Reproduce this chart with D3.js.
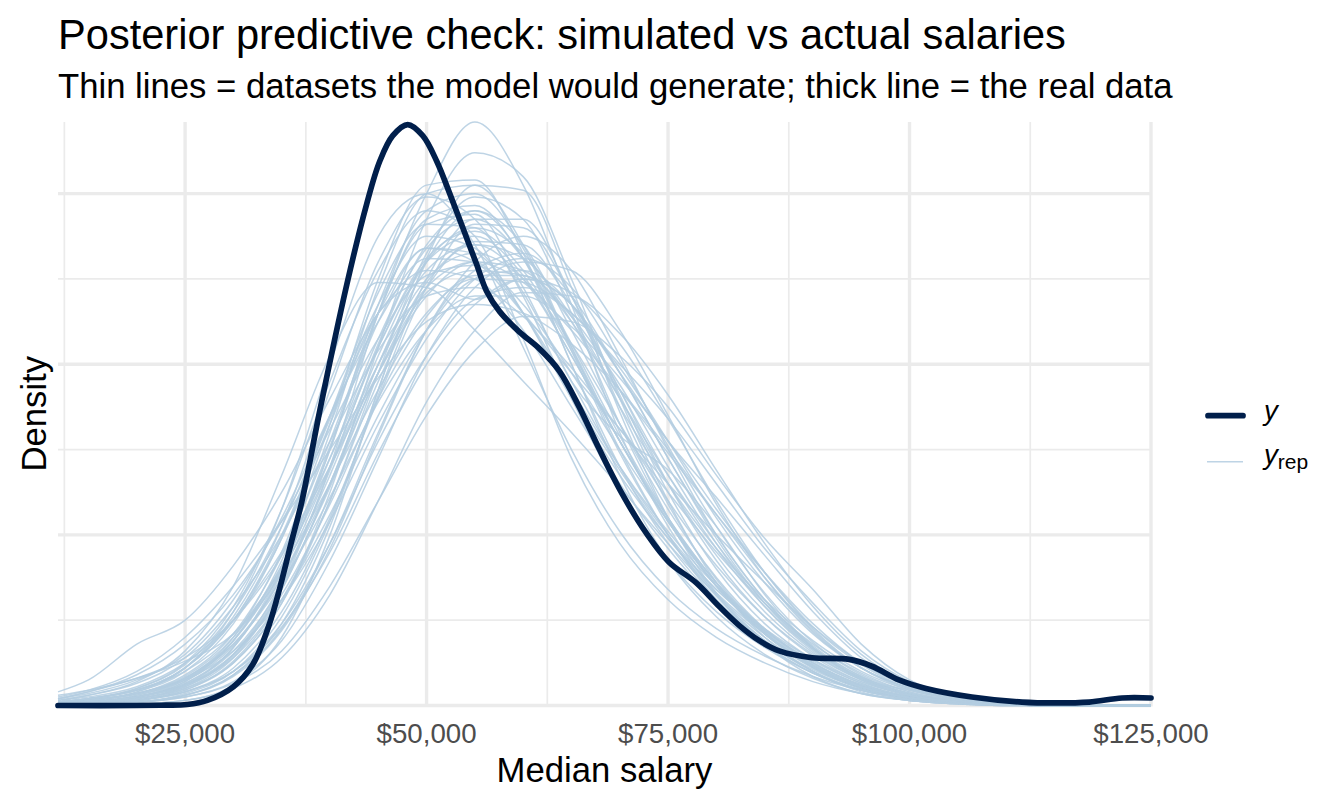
<!DOCTYPE html>
<html>
<head>
<meta charset="utf-8">
<script src="https://cdn.jsdelivr.net/npm/d3@7"></script>
<style>
  body { margin: 0; background: #fff; }
  svg text { font-family: "Liberation Sans", Arial, Helvetica, sans-serif; }
</style>
</head>
<body>
<svg id="chart" width="1344" height="806"></svg>
<script>
// salaries the simulated densities are read at
var grid = [11840, 15000, 20000, 25000, 30000, 35000, 40000, 45000, 50000, 55000, 60000, 65000,
            70000, 75000, 80000, 85000, 90000, 95000, 100000, 105000, 110000, 115000, 120000, 125000]

// simulated datasets (density x 1e5), one row per draw
var yrep = [
  [0.01,0.02,0.05,0.12,0.30,0.70,1.40,2.30,3.00,3.42,3.05,2.35,1.60,1.05,0.65,0.36,0.17,0.07,0.03,0.01,0,0,0,0],
  [0.01,0.02,0.04,0.10,0.25,0.60,1.25,2.10,2.85,3.24,3.10,2.50,1.80,1.20,0.72,0.40,0.20,0.08,0.03,0.01,0,0,0,0],
  [0.01,0.02,0.05,0.14,0.38,0.85,1.60,2.45,3.00,3.05,2.70,2.10,1.50,1.00,0.62,0.36,0.19,0.09,0.04,0.015,0.005,0,0,0],
  [0.02,0.04,0.09,0.22,0.52,1.05,1.85,2.60,2.98,2.85,2.40,1.80,1.25,0.85,0.55,0.34,0.19,0.09,0.04,0.015,0.005,0,0,0],
  [0.01,0.03,0.07,0.18,0.42,0.88,1.55,2.30,2.85,2.93,2.62,2.10,1.55,1.08,0.70,0.42,0.22,0.10,0.04,0.015,0.005,0,0,0],
  [0.03,0.05,0.11,0.25,0.50,0.90,1.40,1.95,2.40,2.60,2.55,2.25,1.80,1.35,0.95,0.60,0.34,0.17,0.07,0.03,0.01,0,0,0],
  [0.005,0.01,0.02,0.06,0.18,0.45,0.95,1.60,2.20,2.55,2.65,2.40,1.95,1.45,1.00,0.62,0.34,0.16,0.06,0.02,0.01,0,0,0],
  [0.08,0.15,0.36,0.50,0.82,1.25,1.80,2.30,2.55,2.50,2.20,1.75,1.30,0.92,0.60,0.36,0.19,0.09,0.04,0.015,0.005,0,0,0],
  [0.03,0.06,0.14,0.32,0.70,1.35,2.05,2.48,2.45,2.20,1.90,1.60,1.28,0.95,0.65,0.40,0.22,0.10,0.04,0.015,0.005,0,0,0],
  [0.01,0.02,0.05,0.14,0.35,0.75,1.35,2.05,2.60,2.80,2.65,2.25,1.75,1.30,0.92,0.62,0.38,0.20,0.09,0.035,0.012,0.004,0,0],
  [0.005,0.01,0.03,0.09,0.26,0.62,1.20,1.90,2.45,2.72,2.70,2.35,1.85,1.35,0.92,0.58,0.33,0.16,0.07,0.025,0.01,0,0,0],
  [0.02,0.04,0.10,0.25,0.58,1.15,1.90,2.55,2.90,2.75,2.15,1.45,0.95,0.62,0.40,0.25,0.14,0.07,0.03,0.01,0,0,0,0],
  [0.005,0.01,0.02,0.05,0.14,0.38,0.85,1.45,2.05,2.45,2.60,2.55,2.20,1.70,1.18,0.75,0.43,0.22,0.10,0.04,0.015,0.005,0,0],
  [0.01,0.02,0.06,0.16,0.40,0.90,1.65,2.50,3.05,3.08,2.65,2.00,1.40,0.95,0.62,0.38,0.21,0.10,0.04,0.015,0.005,0,0,0],
  [0.02,0.04,0.09,0.20,0.42,0.80,1.30,1.85,2.30,2.50,2.48,2.30,1.98,1.55,1.10,0.72,0.42,0.22,0.10,0.04,0.015,0.005,0,0],
  [0.005,0.01,0.03,0.10,0.28,0.68,1.30,2.00,2.55,2.70,2.50,2.05,1.55,1.08,0.70,0.42,0.23,0.11,0.05,0.02,0.005,0,0,0],
  [0.02,0.04,0.10,0.24,0.55,1.05,1.70,2.35,2.75,2.68,2.30,1.80,1.35,0.98,0.68,0.45,0.27,0.14,0.06,0.025,0.01,0,0,0],
  [0.005,0.01,0.03,0.08,0.22,0.55,1.10,1.80,2.45,2.82,2.80,2.40,1.82,1.25,0.80,0.48,0.27,0.13,0.05,0.02,0.005,0,0,0],
  [0.01,0.03,0.07,0.17,0.40,0.82,1.40,2.00,2.45,2.60,2.48,2.20,1.85,1.48,1.12,0.78,0.48,0.25,0.11,0.04,0.015,0.005,0,0],
  [0.005,0.01,0.02,0.05,0.13,0.32,0.70,1.20,1.70,2.08,2.28,2.25,2.05,1.75,1.35,0.98,0.68,0.36,0.15,0.05,0.015,0.005,0,0],
  [0.04,0.07,0.15,0.30,0.62,1.10,1.70,2.25,2.62,2.60,2.30,1.85,1.40,1.02,0.70,0.44,0.25,0.12,0.05,0.02,0.005,0,0,0],
  [0.005,0.01,0.03,0.09,0.25,0.60,1.20,1.95,2.65,2.98,2.85,2.30,1.65,1.10,0.70,0.42,0.23,0.11,0.05,0.02,0.005,0,0,0],
  [0.01,0.02,0.05,0.12,0.28,0.62,1.12,1.70,2.20,2.50,2.55,2.35,1.95,1.55,1.22,0.88,0.55,0.28,0.12,0.045,0.015,0.005,0,0],
  [0.03,0.06,0.13,0.28,0.58,1.00,1.55,2.08,2.40,2.45,2.28,1.98,1.62,1.25,0.90,0.60,0.36,0.19,0.08,0.03,0.01,0,0,0],
  [0.005,0.005,0.01,0.03,0.12,0.40,1.00,1.85,2.60,2.90,2.70,2.20,1.65,1.15,0.75,0.45,0.25,0.12,0.05,0.02,0.005,0,0,0],
  [0.01,0.02,0.05,0.13,0.32,0.70,1.28,1.95,2.48,2.70,2.62,2.28,1.80,1.30,0.88,0.55,0.31,0.15,0.06,0.025,0.01,0,0,0],
  [0.015,0.03,0.08,0.20,0.48,0.98,1.70,2.42,2.82,2.80,2.42,1.90,1.40,1.00,0.68,0.44,0.26,0.13,0.05,0.02,0.005,0,0,0],
  [0.005,0.01,0.02,0.06,0.17,0.44,0.92,1.58,2.20,2.60,2.75,2.55,2.05,1.50,1.00,0.62,0.35,0.17,0.07,0.025,0.01,0,0,0],
  [0.06,0.09,0.16,0.28,0.50,0.88,1.45,2.10,2.60,2.75,2.52,2.05,1.55,1.10,0.72,0.43,0.23,0.11,0.045,0.015,0.005,0,0,0],
  [0.01,0.02,0.06,0.15,0.36,0.75,1.30,1.95,2.42,2.55,2.52,2.35,1.95,1.45,0.98,0.60,0.33,0.16,0.07,0.025,0.01,0,0,0],
  [0.01,0.03,0.08,0.22,0.55,1.15,2.00,2.75,3.00,2.70,2.10,1.50,1.02,0.68,0.45,0.29,0.17,0.09,0.04,0.015,0.005,0,0,0],
  [0.005,0.01,0.03,0.08,0.20,0.48,0.95,1.55,2.05,2.38,2.45,2.30,2.00,1.68,1.30,0.92,0.60,0.32,0.14,0.05,0.02,0.005,0,0],
  [0.02,0.03,0.07,0.16,0.38,0.80,1.45,2.15,2.68,2.85,2.62,2.12,1.58,1.10,0.72,0.43,0.23,0.11,0.045,0.015,0.005,0,0,0],
  [0.04,0.08,0.18,0.36,0.65,1.08,1.62,2.15,2.52,2.58,2.35,1.95,1.50,1.08,0.72,0.45,0.25,0.12,0.05,0.02,0.005,0,0,0],
  [0.005,0.01,0.03,0.08,0.20,0.46,0.90,1.48,2.00,2.35,2.50,2.42,2.12,1.68,1.20,0.78,0.45,0.22,0.09,0.035,0.01,0,0,0],
  [0.01,0.02,0.04,0.11,0.29,0.68,1.30,2.00,2.50,2.65,2.50,2.12,1.65,1.20,0.82,0.52,0.30,0.15,0.06,0.025,0.01,0,0,0],
  [0.01,0.02,0.05,0.13,0.34,0.78,1.50,2.35,2.90,3.00,2.68,2.08,1.48,1.00,0.64,0.38,0.20,0.09,0.035,0.012,0.004,0,0,0],
  [0.02,0.03,0.07,0.16,0.36,0.72,1.22,1.78,2.20,2.40,2.40,2.22,1.92,1.55,1.15,0.78,0.46,0.24,0.10,0.04,0.015,0.005,0,0],
  [0.01,0.015,0.04,0.12,0.34,0.80,1.52,2.25,2.68,2.65,2.30,1.82,1.38,0.98,0.66,0.42,0.24,0.12,0.05,0.02,0.005,0,0,0],
  [0.005,0.01,0.02,0.07,0.20,0.52,1.08,1.82,2.50,2.85,2.85,2.40,1.75,1.18,0.74,0.44,0.24,0.11,0.045,0.015,0.005,0,0,0],
  [0.02,0.04,0.09,0.22,0.50,0.98,1.65,2.30,2.48,2.38,2.50,2.35,1.85,1.30,0.85,0.52,0.29,0.14,0.06,0.02,0.005,0,0,0],
  [0.01,0.02,0.05,0.15,0.38,0.82,1.50,2.30,2.82,2.88,2.45,1.90,1.58,1.38,1.05,0.65,0.34,0.15,0.06,0.02,0.005,0,0,0],
  [0.02,0.03,0.07,0.15,0.32,0.62,1.08,1.65,2.15,2.50,2.62,2.45,2.02,1.52,1.05,0.66,0.37,0.18,0.08,0.03,0.01,0,0,0],
  [0.05,0.09,0.20,0.40,0.70,1.08,1.50,1.92,2.25,2.35,2.30,2.12,1.85,1.50,1.12,0.75,0.44,0.22,0.10,0.04,0.015,0.005,0,0],
  [0.005,0.01,0.02,0.06,0.18,0.48,1.05,1.85,2.62,3.05,3.02,2.45,1.72,1.10,0.66,0.38,0.20,0.09,0.035,0.012,0.004,0,0,0],
  [0.02,0.04,0.09,0.22,0.50,1.00,1.68,2.30,2.68,2.60,2.30,1.95,1.62,1.30,1.00,0.72,0.46,0.25,0.11,0.04,0.015,0.005,0,0],
  [0.005,0.005,0.01,0.03,0.10,0.28,0.65,1.20,1.78,2.20,2.42,2.40,2.18,1.82,1.38,0.95,0.58,0.30,0.13,0.05,0.015,0.005,0,0],
  [0.04,0.08,0.16,0.26,0.42,0.78,1.40,2.10,2.62,2.78,2.55,2.08,1.55,1.08,0.70,0.42,0.23,0.11,0.045,0.015,0.005,0,0,0],
  [0.01,0.02,0.04,0.11,0.30,0.72,1.38,2.12,2.70,2.90,2.62,2.00,1.35,0.85,0.52,0.30,0.16,0.07,0.03,0.01,0,0,0,0],
  [0.01,0.02,0.05,0.12,0.30,0.65,1.18,1.80,2.28,2.52,2.52,2.28,1.88,1.40,0.95,0.58,0.32,0.16,0.09,0.06,0.03,0.01,0,0]
]

// observed data density (density x 1e5)
var ySalary = [11840, 20000, 23000, 25200, 27300, 30000, 32000, 33800, 36150, 37100, 38950, 41750, 43800, 45150, 46500,
               48050, 49600, 51050, 52400, 53750, 55150, 56200, 57550, 59600, 61700, 63750, 65800, 67900,
               70250, 72750, 75100, 77900, 80300, 82350, 84450, 86500, 89900, 93750, 96100, 98900, 101700,
               106450, 111650, 115150, 118600, 122000, 125000]
var yDens = [0, 0, 0.002, 0.006, 0.03, 0.11, 0.24, 0.49, 0.99, 1.20, 1.73, 2.47, 2.94, 3.19, 3.34,
             3.405, 3.34, 3.19, 3.00, 2.80, 2.59, 2.43, 2.31, 2.19, 2.09, 1.96, 1.75, 1.50,
             1.24, 1.01, 0.84, 0.72, 0.58, 0.47, 0.38, 0.32, 0.28, 0.27, 0.23, 0.15, 0.10,
             0.05, 0.02, 0.015, 0.02, 0.044, 0.044]

var xTicks = [25000, 50000, 75000, 100000, 125000]
var xMinor = [12500, 37500, 62500, 87500, 112500]
var yTicks = [0, 1, 2, 3]
var yMinor = [0.5, 1.5, 2.5]

var titleText = "Posterior predictive check: simulated vs actual salaries"
var subtitleText = "Thin lines = datasets the model would generate; thick line = the real data"

var svg = d3.select("#chart")
var pLeft = 58, pRight = 1151, pTop = 122, pBottom = 705.5

var ymax = d3.max(yrep.map(r => d3.max(r)).concat(yDens))

var x = d3.scaleLinear().domain([grid[0], 125000]).range([pLeft, pRight])
var y = d3.scaleLinear().domain([0, ymax]).range([pBottom, pTop])

//grid lines, minor first then major
var grid_g = svg.append("g")
grid_g.selectAll(".vminor").data(xMinor).enter().append("line")
  .attr("x1", d => x(d)).attr("x2", d => x(d)).attr("y1", pTop).attr("y2", pBottom + 1)
  .attr("stroke", "#ebebeb").attr("stroke-width", 1.7)
grid_g.selectAll(".hminor").data(yMinor).enter().append("line")
  .attr("x1", pLeft).attr("x2", pRight).attr("y1", d => y(d)).attr("y2", d => y(d))
  .attr("stroke", "#ebebeb").attr("stroke-width", 1.7)
grid_g.selectAll(".vmajor").data(xTicks).enter().append("line")
  .attr("x1", d => x(d)).attr("x2", d => x(d)).attr("y1", pTop).attr("y2", pBottom + 1)
  .attr("stroke", "#ebebeb").attr("stroke-width", 3.4)
grid_g.selectAll(".hmajor").data(yTicks).enter().append("line")
  .attr("x1", pLeft).attr("x2", pRight).attr("y1", d => y(d)).attr("y2", d => y(d))
  .attr("stroke", "#ebebeb").attr("stroke-width", 3.4)

// density lines
var line = d3.line().curve(d3.curveMonotoneX)
var smooth = d3.line().curve(d3.curveCatmullRom.alpha(0.5))

svg.append("g").selectAll("path").data(yrep).enter().append("path")
  .attr("d", r => line(r.map((v, i) => [x(grid[i]), y(v)])))
  .attr("fill", "none")
  .attr("stroke", "#b3cde0")
  .attr("stroke-opacity", 0.85)
  .attr("stroke-width", 1.5)

svg.append("path")
  .attr("d", smooth(yDens.map((v, i) => [x(ySalary[i]), y(v)])))
  .attr("fill", "none")
  .attr("stroke", "#011f4b")
  .attr("stroke-width", 5.7)
  .attr("stroke-linejoin", "round")
  .attr("stroke-linecap", "round")

// x axis labels
var fmt = d3.format("$,.0f")
svg.append("g").selectAll("text").data(xTicks).enter().append("text")
  .attr("x", d => x(d)).attr("y", 743)
  .attr("text-anchor", "middle")
  .attr("font-size", "27.7px")
  .attr("fill", "#4d4d4d")
  .text(d => fmt(d))

svg.append("text")
  .attr("x", (pLeft + pRight) / 2).attr("y", 782)
  .attr("text-anchor", "middle")
  .attr("font-size", "34.7px")
  .text("Median salary")

svg.append("text")
  .attr("transform", `translate(46, ${(pTop + pBottom) / 2}) rotate(-90)`)
  .attr("text-anchor", "middle")
  .attr("font-size", "34.7px")
  .text("Density")

// titles
svg.append("text").attr("x", 58).attr("y", 49)
  .attr("font-size", "41.6px").text(titleText)
svg.append("text").attr("x", 58).attr("y", 98)
  .attr("font-size", "34.7px").text(subtitleText)

// legend
var leg = svg.append("g")
leg.append("line").attr("x1", 1208).attr("x2", 1243).attr("y1", 415.7).attr("y2", 415.7)
  .attr("stroke", "#011f4b").attr("stroke-width", 5.7).attr("stroke-linecap", "round")
leg.append("line").attr("x1", 1207).attr("x2", 1243).attr("y1", 461.7).attr("y2", 461.7)
  .attr("stroke", "#b3cde0").attr("stroke-opacity", 0.85).attr("stroke-width", 1.5)

leg.append("text").attr("x", 1264).attr("y", 420)
  .attr("font-size", "27.7px").attr("font-style", "italic").text("y")
var rep = leg.append("text").attr("x", 1264).attr("y", 464).attr("font-size", "27.7px")
rep.append("tspan").attr("font-style", "italic").text("y")
rep.append("tspan").attr("dy", 5).attr("font-size", "21px").text("rep")
</script>
</body>
</html>
